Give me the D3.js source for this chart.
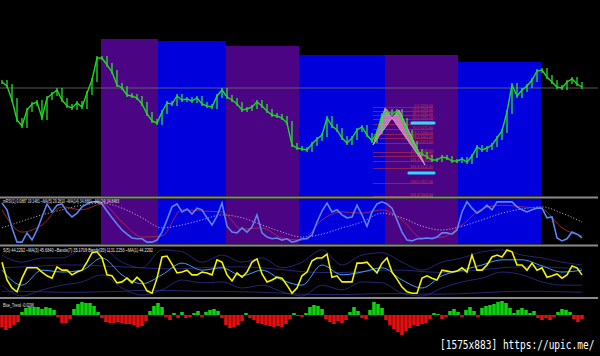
<!DOCTYPE html>
<html>
<head>
<meta charset="utf-8">
<script src="https://cdn.jsdelivr.net/npm/d3@7"></script>
<style>
  body { margin: 0; background: #000; overflow: hidden; }
  svg { display: block; }
</style>
</head>
<body>
<script>
// price closes, one every 5 px of chart
var closes = [1218,1214,1200,1180,1174,1190,1196,1198,1182,1202,1206,1210,1200,1194,1192,1197,1193,1207,1220,1242,
  1242,1235,1228,1215,1212,1205,1204,1202,1196,1186,1179,1177,1188,1197,1196,1204,1200,1201,1199,1202,
  1196,1194,1193,1204,1210,1203,1200,1196,1190,1191,1193,1198,1194,1189,1185,1184,1182,1177,1155,1152,
  1151,1150,1156,1161,1165,1182,1174,1170,1162,1157,1162,1170,1173,1165,1159,1168,1185,1189,1186,1189,
  1180,1168,1157,1149,1146,1143,1140,1140,1143,1142,1139,1139,1141,1138,1144,1153,1150,1152,1155,1162,
  1169,1188,1215,1204,1210,1214,1220,1229,1230,1223,1218,1213,1212,1218,1221,1216,1213];

// RSI pane
var rsiVals = [95,79,36,2,2,24,7,31,62,93,74,90,93,74,62,71,86,93,98,98,
  93,76,60,45,31,21,12,10,10,2,2,7,26,55,86,93,74,81,69,83,
  79,60,43,64,95,40,26,24,36,26,38,67,24,14,10,12,7,10,2,5,
  10,10,19,50,76,95,74,79,67,60,62,90,67,40,74,93,98,93,83,55,
  26,7,5,10,10,12,10,14,24,24,21,31,74,98,83,71,79,90,79,98,
  98,98,98,86,79,74,79,83,83,60,62,12,5,10,26,21,12];
var rsiFast = [79,26,43,86,79,93,50,14,17,79,76,74,33,36,12,7,55,74,71,79,55,12,14,43,81,90,86,81,36,17];
var rsiSlow = [36,52,67,79,90,95,83,60,36,43,55,67,60,43,26,14,21,36,50,71,60,40,31,40,55,71,81,86,71,50];

// stochastic pane
var stochVals = [72,34,17,9,38,60,60,60,51,43,38,62,55,55,45,51,55,72,92,94,
  81,45,43,28,30,38,28,40,30,11,6,38,83,85,68,49,51,55,45,45,
  51,49,45,77,72,45,32,49,40,51,72,79,47,30,34,40,38,23,6,17,
  43,51,75,81,81,89,40,43,30,30,30,70,70,72,60,49,70,81,51,36,
  19,9,6,6,38,43,38,34,55,53,51,53,60,51,87,55,55,66,83,87,
  83,98,94,66,66,55,70,55,60,40,43,47,38,45,64,60,45];
var stochMa = [55,23,55,51,55,81,45,26,45,70,55,60,43,55,34,23,66,45,51,60,34,17,43,55,66,77,77,64,51,55];
var bandUp = [87,72,81,81,98,100,72,60,98,94,72,87,72,81,60,72,98,66,87,92,72,55,72,81,94,98,87,81,72,66];
var bandLow = [23,0,13,23,30,45,17,2,13,34,28,30,17,23,9,0,23,13,30,28,6,0,17,30,38,51,45,30,23,23];
var longUp = [60,62,64,66,66,64,62,60,58,58,60,62,62,60,56,52,50,50,52,55,55,52,50,52,56,60,62,62,60,58];
var longLow = [10,10,9,8,8,9,10,12,12,11,10,10,9,8,6,4,3,3,4,5,5,4,4,5,7,9,10,10,9,8];

// trend histogram, one bar every 4 px
var histVals = [-12,-15,-13,-10,-7,3,7,8,8,8,6,8,7,5,-2,-8,-8,-4,6,11,
  13,12,12,9,3,-3,-7,-8,-8,-7,-8,-9,-9,-10,-12,-11,-6,4,9,12,
  8,-2,-5,2,-3,3,-3,-2,2,4,-2,3,5,6,4,-3,-10,-13,-12,-10,
  -6,2,-3,-5,-8,-9,-10,-11,-12,-11,-12,-9,-4,2,-1,-2,2,8,10,9,
  6,-4,-7,-9,-6,-8,-5,3,8,4,-3,-4,5,13,11,7,-5,-10,-14,-17,
  -20,-16,-13,-10,-11,-9,-8,-4,2,1,-4,-2,4,6,3,-2,5,8,4,-2,
  7,9,10,11,13,14,12,7,2,5,7,5,2,4,-3,-5,-3,-5,-2,3,
  6,5,3,-4,-7,-4];

// session zones (bar index) and their top price
var zoneFrom = [19.8, 31.2, 44.8, 59.4, 76.6, 91.2];
var zoneTo = [31.2, 44.8, 59.4, 76.6, 91.2, 107.8];
var zoneTop = [1261, 1259, 1254, 1245, 1245, 1238];
var zoneKind = ['p', 'b', 'p', 'b', 'p', 'b'];

// harmonic pattern + fibo levels
var patIdx = [74.2, 76.6, 78.0, 79.4, 84.6];
var patPrice = [1155, 1192, 1182, 1190, 1135];
var fibPct = ['0.0','23.6','38.2','50.0','61.8','70.7','78.6','88.6','100.0','113.0','127.2','141.4','161.8','200.0','261.8'];
var fibPrice = [1193,1189,1185,1181,1176,1171,1166,1162,1157,1148,1144,1139,1132,1117,1104];
var targetIdx = [[82.0, 86.4], [81.4, 86.4]];
var targetPrice = [1177, 1127];

var W = 600, H = 356;
var svg = d3.select('body').append('svg')
  .attr('width', W)
  .attr('height', H)
  .style('background', '#000');

var x = d3.scaleLinear().domain([0, 116]).range([2, 582]);
var xh = d3.scaleLinear().domain([0, 145]).range([2, 582]);
var yP = d3.scaleLinear().domain([1104, 1300]).range([196, 0]);
var yR = d3.scaleLinear().domain([0, 100]).range([243, 201]);
var yS = d3.scaleLinear().domain([0, 100]).range([296, 249]);
var yH = d3.scaleLinear().domain([-20, 20]).range([335, 295]);
var zoneColor = { p: '#4b0584', b: '#0000dc' };

// zones, main pane and rsi pane
var zones = zoneFrom.map(function (d, i) { return { a: d, b: zoneTo[i], top: zoneTop[i], k: zoneKind[i] }; });
svg.selectAll('.zone').data(zones).enter().append('rect')
  .attr('x', function (d) { return x(d.a); })
  .attr('width', function (d) { return x(d.b) - x(d.a); })
  .attr('y', function (d) { return yP(d.top); })
  .attr('height', function (d) { return 196 - yP(d.top); })
  .attr('fill', function (d) { return zoneColor[d.k]; });
svg.selectAll('.zoneR').data(zones).enter().append('rect')
  .attr('x', function (d) { return x(d.a); })
  .attr('width', function (d) { return x(d.b) - x(d.a); })
  .attr('y', 199).attr('height', 45)
  .attr('fill', function (d) { return zoneColor[d.k]; });

// current price line
svg.append('line').attr('x1', 0).attr('x2', 598)
  .attr('y1', yP(1212)).attr('y2', yP(1212))
  .attr('stroke', '#707070').attr('stroke-width', 0.8);

// fibo levels
var fib = svg.append('g');
fibPrice.forEach(function (p, i) {
  fib.append('line')
    .attr('x1', x(74.2)).attr('x2', x(86.2))
    .attr('y1', yP(p) + 0.5).attr('y2', yP(p) + 0.5)
    .attr('stroke', '#c03040').attr('stroke-width', 0.6);
  fib.append('text')
    .attr('x', x(86.2)).attr('y', yP(p) - 0.3)
    .attr('text-anchor', 'end')
    .attr('font-family', 'Liberation Sans, Arial')
    .attr('font-size', 3.6)
    .attr('fill', '#d03848')
    .text(fibPct[i] + ' ' + p.toFixed(2));
});

// harmonic triangles
var tri = function (ids) { return ids.map(function (k) { return [x(patIdx[k]), yP(patPrice[k])]; }); };
[[0, 1, 2], [2, 3, 4]].forEach(function (ids) {
  svg.append('path')
    .attr('d', d3.line()(tri(ids)) + 'Z')
    .attr('fill', '#e890c8').attr('fill-opacity', 0.8)
    .attr('stroke', '#f0a0d0').attr('stroke-width', 0.8);
});

// price bars
var bars = svg.append('g');
closes.forEach(function (c, i) {
  var prev = i > 0 ? closes[i - 1] : c;
  var top = yP(Math.max(prev, c)) - 2, bot = yP(Math.min(prev, c)) + 2;
  bars.append('line')
    .attr('x1', x(i)).attr('x2', x(i))
    .attr('y1', top).attr('y2', bot)
    .attr('stroke', '#2ef02e').attr('stroke-width', 1.2);
});
svg.append('path')
  .datum(closes)
  .attr('d', d3.line().x(function (d, i) { return x(i); }).y(function (d) { return yP(d); }))
  .attr('fill', 'none')
  .attr('stroke', '#20d820')
  .attr('stroke-width', 1.4);

// targets
targetPrice.forEach(function (p, i) {
  svg.append('line')
    .attr('x1', x(targetIdx[i][0])).attr('x2', x(targetIdx[i][1]))
    .attr('y1', yP(p)).attr('y2', yP(p))
    .attr('stroke', '#30d8ff').attr('stroke-width', 3.2)
    .attr('stroke-linecap', 'round');
});

// pane separators
[197.5, 245.5, 298].forEach(function (yy) {
  svg.append('line').attr('x1', 0).attr('x2', 598).attr('y1', yy).attr('y2', yy)
    .attr('stroke', '#8a8a8a').attr('stroke-width', 1.8);
});

var lineFull = function (ys) { return d3.line().x(function (d, i) { return x(i); }).y(function (d) { return ys(d); }); };
var lineSparse = function (ys) {
  return d3.line().curve(d3.curveMonotoneX).x(function (d, i) { return x(i * 4); }).y(function (d) { return ys(d); });
};

// rsi pane
svg.append('path').datum(rsiSlow).attr('d', lineSparse(yR))
  .attr('fill', 'none').attr('stroke', '#f0c0d8').attr('stroke-width', 0.8).attr('stroke-dasharray', '1.2,1.8');
svg.append('path').datum(rsiFast).attr('d', lineSparse(yR))
  .attr('fill', 'none').attr('stroke', '#b83040').attr('stroke-width', 0.8);
svg.append('path').datum(rsiVals).attr('d', lineFull(yR))
  .attr('fill', 'none').attr('stroke', '#5c84f4').attr('stroke-width', 1.6);

// stochastic pane
[bandUp, bandLow, longUp, longLow].forEach(function (s) {
  svg.append('path').datum(s).attr('d', lineSparse(yS))
    .attr('fill', 'none').attr('stroke', '#3434a8').attr('stroke-width', 0.7);
});
svg.append('path').datum(stochMa).attr('d', lineSparse(yS))
  .attr('fill', 'none').attr('stroke', '#3c9cff').attr('stroke-width', 1);
svg.append('path').datum(stochVals).attr('d', lineFull(yS))
  .attr('fill', 'none').attr('stroke', '#f4f400').attr('stroke-width', 1.6);

// histogram
svg.selectAll('.hb').data(histVals).enter().append('rect')
  .attr('x', function (d, i) { return xh(i) - 1.8; })
  .attr('width', 3.6)
  .attr('y', function (d) { return d > 0 ? yH(d) : yH(0); })
  .attr('height', function (d) { return Math.abs(yH(d) - yH(0)); })
  .attr('fill', function (d) { return d > 0 ? '#10d010' : '#e01010'; });

// legends
var legend = function (t, yy, len) {
  svg.append('text').attr('x', 3).attr('y', yy)
    .attr('font-family', 'Liberation Sans, Arial').attr('font-size', 4.6)
    .attr('fill', '#e0e0e0').attr('textLength', len).attr('lengthAdjust', 'spacingAndGlyphs')
    .text(t);
};
legend('mRSI(1) 0.0887 19.1481  ~MA(5) 29.2810  ~MA(14) 34.8861  ~MA(24) 34.8483', 203, 116);
legend('S(5) 44.2292   ~MA(3) 45.6840   ~Bands(7) 35.1719  Bands(20) 1131.2256  ~MA(1) 44.2292', 251.5, 150);
legend('Blue_Trend -0.0296', 306.5, 31);

// watermark
svg.append('text')
  .attr('transform', 'translate(440,349) scale(1,1.25)')
  .attr('font-family', 'DejaVu Sans Mono').attr('font-size', 9.5)
  .attr('fill', '#ffffff')
  .text('[1575x883] https://upic.me/');
</script>
</body>
</html>
